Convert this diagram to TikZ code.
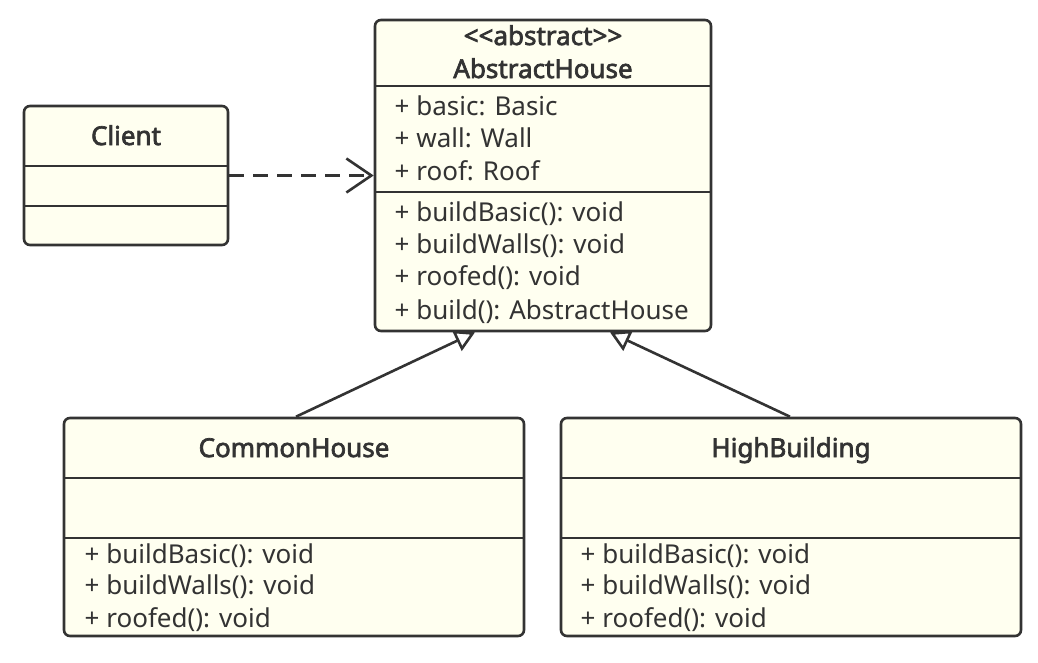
\documentclass[tikz,border=0pt]{standalone}
\usepackage{fontspec}
\setmainfont{Noto Sans}
\newfontfamily\namefont{Noto Sans}[FakeBold=2.6]
\usetikzlibrary{arrows.meta}
\definecolor{boxfill}{HTML}{FFFFF0}
\definecolor{ink}{HTML}{333333}
\begin{document}
\begin{tikzpicture}[x=1pt,y=-1pt,
  classbox/.style={draw=ink, fill=boxfill, line width=2.6pt, rounded corners=6pt, inner sep=0pt},
  divider/.style={draw=ink, line width=2.6pt},
  member/.style={anchor=base west, inner sep=0pt, text=ink, font=\fontsize{26}{30}\selectfont},
  classname/.style={anchor=base, inner sep=0pt, text=ink, font=\namefont\fontsize{26}{30}\selectfont},
  dep/.style={draw=ink, line width=2.6pt, dash pattern=on 15pt off 9pt, -{Straight Barb[length=25pt,width=34pt]}},
  inherit/.style={draw=ink, line width=2.6pt, -{Triangle[open,length=20pt,width=22pt,fill=white]}}
]
\useasboundingbox (0,0) rectangle (1038,662);

% class boxes
\node[classbox, minimum width=204pt, minimum height=139pt] (client) at (126,175.5) {};
\node[classbox, minimum width=336pt, minimum height=311pt] (ah) at (543,175.5) {};
\node[classbox, minimum width=460pt, minimum height=218pt] (ch) at (294,527) {};
\node[classbox, minimum width=460pt, minimum height=218pt] (hb) at (791,527) {};

% dividers
\draw[divider] (24,166) -- (228,166);
\draw[divider] (24,206) -- (228,206);
\draw[divider] (375,86) -- (711,86);
\draw[divider] (375,192) -- (711,192);
\draw[divider] (64,478) -- (524,478);
\draw[divider] (64,538) -- (524,538);
\draw[divider] (561,478) -- (1021,478);
\draw[divider] (561,538) -- (1021,538);

% connectors
\draw[dep] (client.east) -- (ah.west);
\draw[inherit] ([xshift=2pt]ch.north) -- ([xshift=-68pt]ah.south);
\draw[inherit] ([xshift=-1pt]hb.north) -- ([xshift=67pt]ah.south);

% Client
\node[classname] (clientname) at (126,145) {Client};

% AbstractHouse
\node[classname] (stereo) at (543,45) {<\kern0pt<abstract>\kern0pt>};
\node[classname] (ahname) at (543,78) {AbstractHouse};
\node[member] (a1) at (394.5,115) {+ basic: Basic};
\node[member] (a2) at (394.5,147.5) {+ wall: Wall};
\node[member] (a3) at (394.5,180) {+ roof: Roof};
\node[member] (m1) at (394.5,221.5) {+ buildBasic(): void};
\node[member] (m2) at (394.5,253.5) {+ buildWalls(): void};
\node[member] (m3) at (394.5,285.5) {+ roofed(): void};
\node[member] (m4) at (394.5,319) {+ build(): AbstractHouse};

% CommonHouse
\node[classname] (chname) at (294,457) {CommonHouse};
\node[member] (c1) at (84.5,563) {+ buildBasic(): void};
\node[member] (c2) at (84.5,594.5) {+ buildWalls(): void};
\node[member] (c3) at (84.5,627) {+ roofed(): void};

% HighBuilding
\node[classname] (hbname) at (791,457) {HighBuilding};
\node[member] (h1) at (580.5,563) {+ buildBasic(): void};
\node[member] (h2) at (580.5,594.5) {+ buildWalls(): void};
\node[member] (h3) at (580.5,627) {+ roofed(): void};
\end{tikzpicture}
\end{document}
